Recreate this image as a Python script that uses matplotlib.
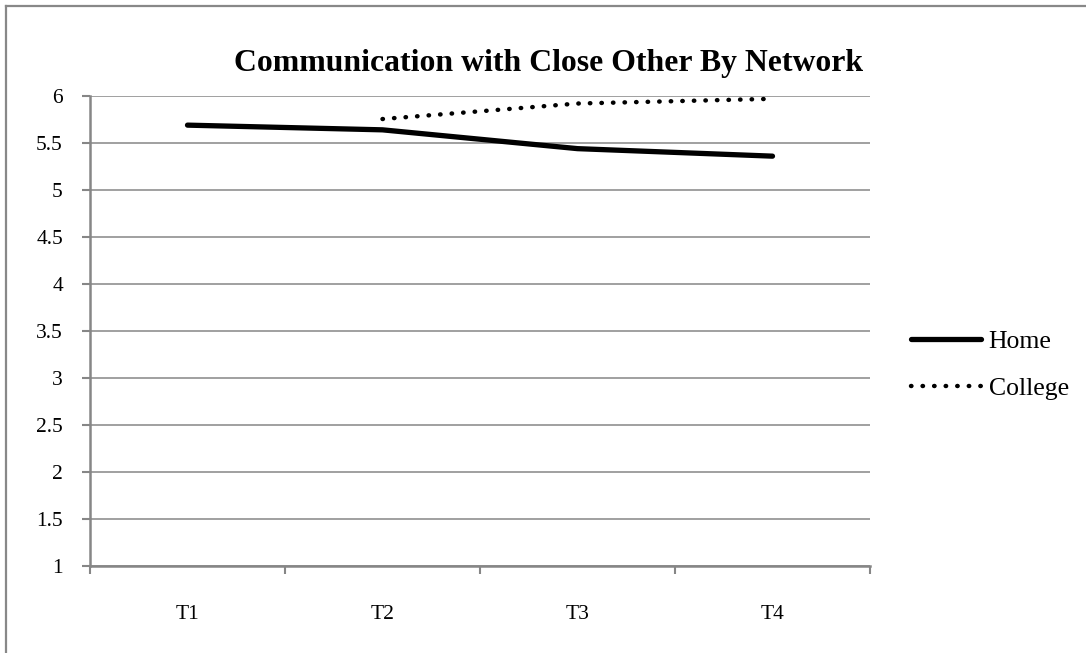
import matplotlib
matplotlib.use('Agg')
import matplotlib.pyplot as plt
from matplotlib.lines import Line2D

plt.rcParams['font.family'] = ['Liberation Serif', 'DejaVu Serif']

# data
times = ['T1', 'T2', 'T3', 'T4']
home = [5.69, 5.64, 5.44, 5.36]
college_times = ['T2', 'T3', 'T4']
college = [5.755, 5.92, 5.97]

fig = plt.figure(figsize=(10.86, 6.53), dpi=100)
ax = fig.add_axes([90 / 1086, 87 / 653, 780 / 1086, 470 / 653])

x_home = [times.index(t) for t in times]
x_college = [times.index(t) for t in college_times]

dotted = (0, (0.1, 2.5))

ax.plot(x_home, home, color='black', lw=3.8, solid_capstyle='round',
        solid_joinstyle='round', label='Home', zorder=3)
ax.plot(x_college, college, color='black', lw=3.2, linestyle=dotted,
        dash_capstyle='round', label='College', zorder=3)

ax.set_xlim(-0.5, len(times) - 0.5)
ax.set_ylim(1, 6)
ax.set_yticks([1 + 0.5 * i for i in range(11)])
ax.set_yticklabels(['1', '1.5', '2', '2.5', '3', '3.5', '4', '4.5', '5', '5.5', '6'])
ax.set_xticks(range(len(times)))
ax.set_xticklabels(times)
ax.set_xticks([i - 0.5 for i in range(len(times) + 1)], minor=True)

ax.grid(axis='y', color='#a0a0a0', lw=1.4)
ax.set_axisbelow(True)
for s in ['top', 'right']:
    ax.spines[s].set_visible(False)
for s in ['left', 'bottom']:
    ax.spines[s].set_color('#868686')
    ax.spines[s].set_linewidth(1.8)

ax.tick_params(axis='y', direction='out', length=6, width=1.5, color='#868686',
               labelsize=15.5, pad=13.5)
ax.tick_params(axis='x', which='major', length=0, labelsize=15.5, pad=28)
ax.tick_params(axis='x', which='minor', direction='out', length=5.5, width=1.5,
               color='#868686')

fig.text(549 / 1086, 1 - 64 / 653, 'Communication with Close Other By Network',
         ha='center', va='center', fontsize=22.9, fontweight='bold')

handles = [Line2D([], [], color='black', lw=3.8, solid_capstyle='round'),
           Line2D([], [], color='black', lw=3.2, linestyle=dotted,
                  dash_capstyle='round')]
fig.legend(handles, ['Home', 'College'], loc='center left',
           bbox_to_anchor=(911 / 1086, 1 - 365 / 653), frameon=False,
           fontsize=18.5, handlelength=2.72, handletextpad=0.3,
           labelspacing=0.9, borderpad=0, borderaxespad=0)

# chart border (cropped at bottom/right in the original)
fig.add_artist(Line2D([6 / 1086, 6 / 1086], [0, 1 - 6 / 653],
                      transform=fig.transFigure, color='#888888', lw=1.6))
fig.add_artist(Line2D([6 / 1086, 1], [1 - 6 / 653, 1 - 6 / 653],
                      transform=fig.transFigure, color='#888888', lw=1.6))

fig.savefig('out.png', dpi=100)
